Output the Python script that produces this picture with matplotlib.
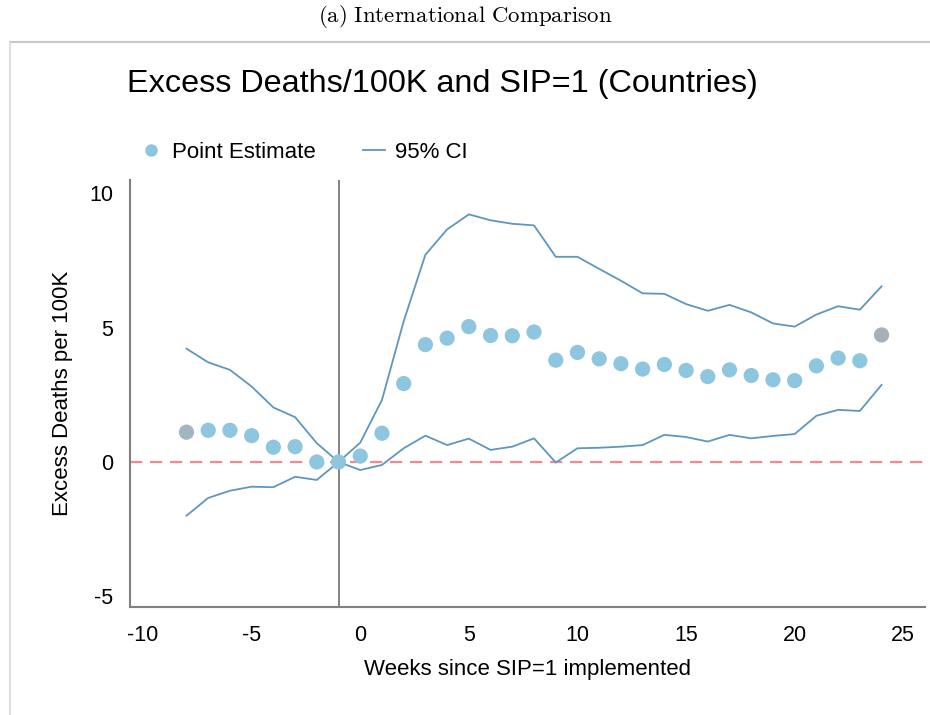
import matplotlib
matplotlib.use("Agg")
import matplotlib.pyplot as plt
from matplotlib.lines import Line2D

# weeks relative to SIP=1
weeks = list(range(-8, 25))

point_est = [1.11, 1.18, 1.18, 0.98, 0.55, 0.57, 0.00, 0.00, 0.22, 1.07, 2.92,
             4.37, 4.61, 5.04, 4.71, 4.70, 4.84, 3.79, 4.08, 3.84, 3.66, 3.46,
             3.63, 3.41, 3.18, 3.43, 3.22, 3.06, 3.03, 3.58, 3.87, 3.77, 4.73]

ci_upper = [4.22, 3.71, 3.43, 2.81, 2.03, 1.67, 0.70, 0.00, 0.72, 2.31, 5.24,
            7.72, 8.66, 9.22, 9.00, 8.87, 8.81, 7.64, 7.64, 7.19, 6.75, 6.28,
            6.26, 5.88, 5.63, 5.85, 5.57, 5.16, 5.04, 5.49, 5.80, 5.67, 6.54]

ci_lower = [-2.00, -1.34, -1.07, -0.92, -0.94, -0.55, -0.67, 0.00, -0.30, -0.11, 0.51,
            0.98, 0.63, 0.87, 0.45, 0.57, 0.88, -0.02, 0.51, 0.53, 0.57, 0.63,
            1.01, 0.93, 0.76, 1.01, 0.88, 0.97, 1.04, 1.72, 1.94, 1.90, 2.87]

x_ticks = [-10, -5, 0, 5, 10, 15, 20, 25]
y_ticks = [-5, 0, 5, 10]

plt.rcParams['font.family'] = ['Liberation Sans', 'DejaVu Sans']
plt.rcParams['axes.unicode_minus'] = False
plt.rcParams['mathtext.fontset'] = 'cm'

fig = plt.figure(figsize=(9.3, 7.15), dpi=100)

# caption and panel border
fig.text(0.5, 1 - 17 / 715, r'$\mathrm{(a)\ International\ Comparison}$',
         ha='center', va='center', fontsize=16.5)
fig.add_artist(Line2D([10 / 930, 1.0], [1 - 42 / 715] * 2, color='#c8c8c8', lw=1.5,
                      transform=fig.transFigure))
fig.add_artist(Line2D([10 / 930] * 2, [0, 1 - 42 / 715], color='#d8d8d8', lw=1.2,
                      transform=fig.transFigure))

fig.text(127 / 930, 1 - 84 / 715, "Excess Deaths/100K and SIP=1 (Countries)",
         ha='left', va='center', fontsize=23.3)

ax = fig.add_axes([130 / 930, 1 - 607 / 715, 795 / 930, 427 / 715])

ax.axhline(0, color='#f08a8f', lw=1.6, ls=(0, (5.5, 3.5)), zorder=1)
ax.axvline(-1, color='#7a7a7a', lw=1.3, zorder=1)

ax.plot(weeks, ci_upper, color='#5e96c0', lw=1.3, zorder=2)
ax.plot(weeks, ci_lower, color='#5e96c0', lw=1.3, zorder=2)

pt_colors = ['#8ec5df'] * len(weeks)
pt_colors[0] = '#a3b5c0'
pt_colors[-1] = '#a6b0b8'
ax.scatter(weeks, point_est, s=120, c=pt_colors, edgecolors='none', zorder=3)

ax.set_xlim(-10.6, 26.0)
ax.set_ylim(-5.4, 10.5)
ax.set_xticks(x_ticks)
ax.set_yticks(y_ticks)
ax.tick_params(axis='both', length=0, labelsize=15.5, colors='black')
ax.tick_params(axis='x', pad=13)
ax.tick_params(axis='y', pad=12)

for side in ['top', 'right']:
    ax.spines[side].set_visible(False)
for side in ['left', 'bottom']:
    ax.spines[side].set_color('#808080')
    ax.spines[side].set_linewidth(1.5)

ax.set_xlabel("Weeks since SIP=1 implemented", fontsize=16, labelpad=9)
ax.set_ylabel("Excess Deaths per 100K", fontsize=16, labelpad=12)

handles = [Line2D([], [], marker='o', ls='none', color='#8ec5df', markersize=8),
           Line2D([], [], color='#5e96c0', lw=1.3)]
fig.legend(handles, ['Point Estimate', '95% CI'], loc='center left',
           bbox_to_anchor=(120 / 930, 1 - 152 / 715), ncol=2, frameon=False,
           fontsize=16, handlelength=1.0, handletextpad=0.45, columnspacing=2.1)

fig.savefig("out.png", dpi=100)
